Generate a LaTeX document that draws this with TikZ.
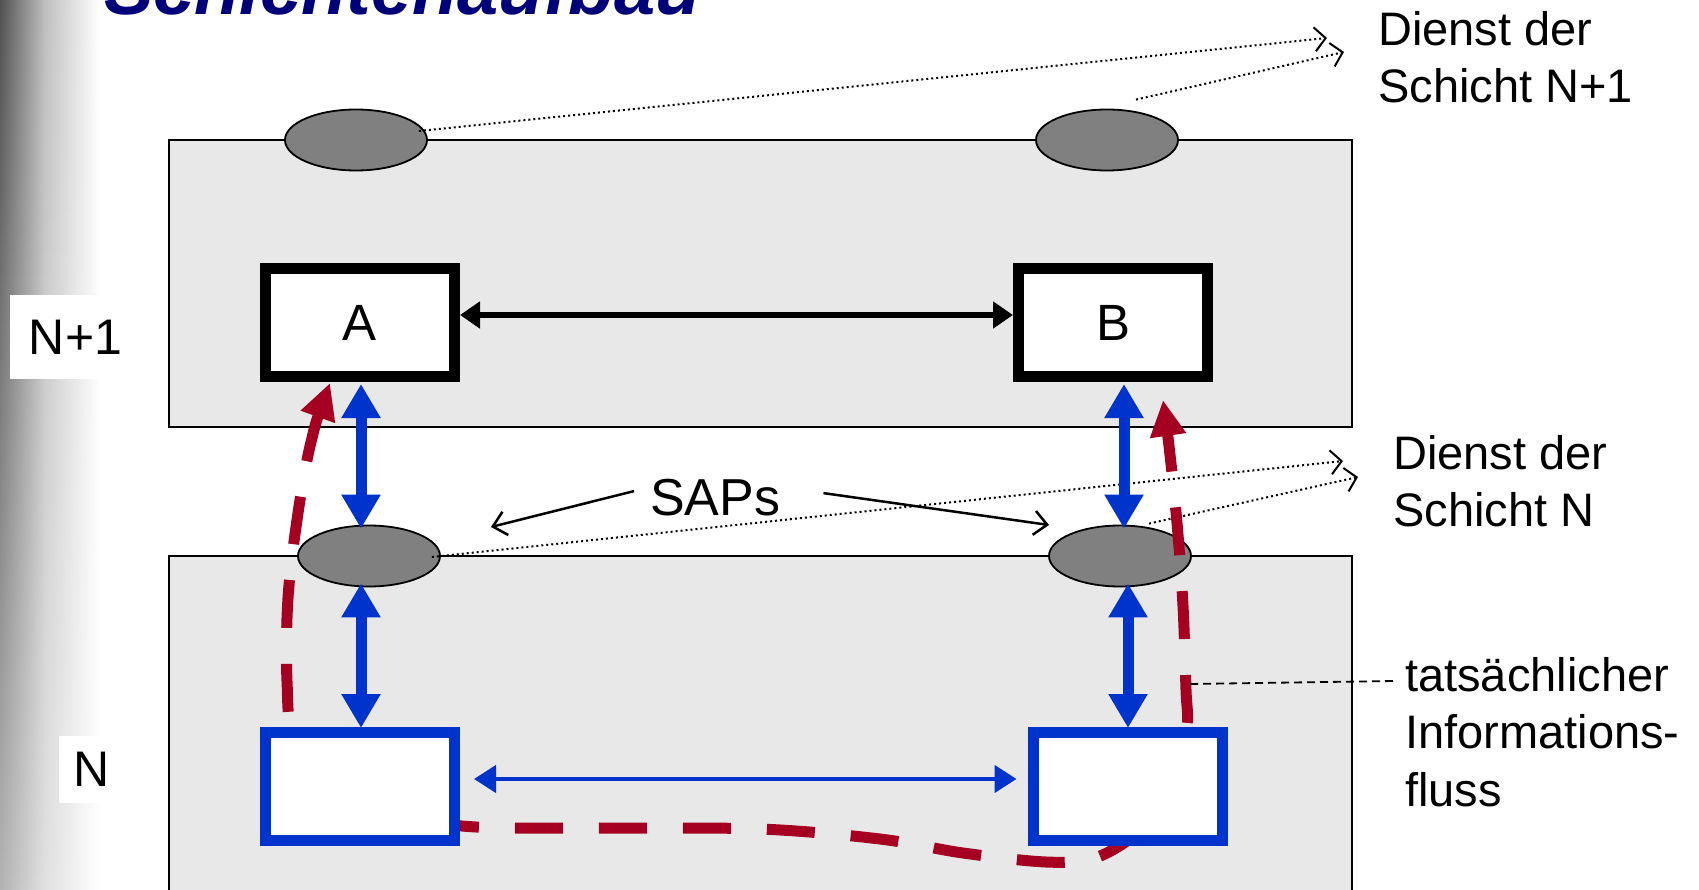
\documentclass[tikz,border=0pt]{standalone}
\usepackage{fontspec}
\setmainfont{Liberation Sans}
\usetikzlibrary{arrows.meta,shapes.geometric,calc,shadings}
\definecolor{layerfill}{RGB}{232,232,232}
\definecolor{sapfill}{RGB}{128,128,128}
\definecolor{nblue}{RGB}{0,51,204}
\definecolor{flowred}{RGB}{165,0,33}
\definecolor{titlenavy}{RGB}{0,0,120}
\pgfdeclarelayer{bg}
\pgfsetlayers{bg,main}
\begin{document}
\begin{tikzpicture}[x=1pt,y=-1pt,
  layerbox/.style={draw=black,line width=2pt,fill=layerfill},
  sap/.style={ellipse,draw=black,line width=1.8pt,fill=sapfill,minimum width=142pt,minimum height=61pt,inner sep=0pt},
  entity/.style={draw=black,line width=11pt,fill=white,minimum width=189pt,minimum height=108pt,inner sep=0pt,font=\fontsize{51}{60}\selectfont},
  nentity/.style={entity,draw=nblue},
  sidetext/.style={align=left,inner sep=0pt,anchor=base west,font=\fontsize{47}{57.5}\selectfont},
  lvl/.style={fill=white,inner sep=0pt,font=\fontsize{50}{60}\selectfont},
  peer/.style={line width=5.5pt,{Triangle[length=20pt,width=26pt]}-{Triangle[length=20pt,width=26pt]}},
  sapaccess/.style={nblue,line width=11pt,{Triangle[length=34pt,width=37pt]}-{Triangle[length=34pt,width=37pt]}},
  npeer/.style={nblue,line width=4.5pt,{Triangle[length=22pt,width=27pt]}-{Triangle[length=22pt,width=27pt]}},
  flow/.style={flowred,line width=11pt,dash pattern=on 48pt off 36pt,{Triangle[length=36pt,width=34pt]}-{Triangle[length=36pt,width=34pt]}},
  service/.style={line width=2pt,dash pattern=on 2pt off 3pt,-{Straight Barb[length=11pt,width=24pt,line width=2pt]}},
  pointer/.style={line width=2.5pt,-{Straight Barb[length=13pt,width=24pt,line width=2.5pt]}},
  leader/.style={line width=1.8pt,dash pattern=on 8pt off 5pt},
]
\useasboundingbox (0,0) rectangle (1699,890);
\clip (0,0) rectangle (1699,890);

% entities (main layer, on top)
\node[entity] (A) at (360,322.5) {A};
\node[entity] (B) at (1113,322.5) {B};
\node[nentity] (nA) at (360,786.5) {};
\node[nentity] (nB) at (1127.5,786.5) {};

\begin{pgfonlayer}{bg}
\fill[white] (0,0) rectangle (1699,890);
\shade[upper left=black!68, lower left=black!30, upper right=black!25, lower right=black!12] (0,0) rectangle (45,890);
\shade[upper left=black!25, lower left=black!12, upper right=white, lower right=white] (45,0) rectangle (100,890);

\node[lvl,minimum width=116pt,minimum height=84pt] (lvlN1) at (68,337) {\hspace*{15pt}N+1};
\node[lvl,minimum width=61pt,minimum height=67pt] (lvlN) at (89,769.5) {\hspace*{6pt}N};

\node[anchor=base west,inner sep=0pt,text=titlenavy,font=\fontsize{74}{80}\selectfont\bfseries\itshape] (title) at (104,15) {Schichtenaufbau};

\draw[layerbox] (169,140) rectangle (1352,427);
\draw[layerbox] (169,556) rectangle (1352,905);

\node[sap] (s1) at (356,140) {};
\node[sap] (s2) at (1107,140) {};
\node[sap] (s3) at (369,556) {};
\node[sap] (s4) at (1120,556) {};

\coordinate (t1) at (1327,38);
\coordinate (t2) at (1344,52);
\coordinate (t3) at (1343,461);
\coordinate (t4) at (1358,477);
\draw[service] ($(s1.east)+(-9,-9)$) -- (t1);
\draw[service] ($(s2.north)+(29,-9)$) -- (t2);
\draw[service] ($(s3.east)+(-9,1)$) -- (t3);
\draw[service] ($(s4.north)+(29,-1)$) -- (t4);

\coordinate (fA) at ($(A.south)+(-30,1)$);
\coordinate (fB) at ($(B.south)+(50,18)$);
\draw[flow] plot[smooth,tension=0.55] coordinates {(fA) (311,442) (298,513) (288,598) (287,681) (295,745) (340,805) (462,826) (600,828) (760,829) (880,839) (963,853) (1046,862) (1095,858) (1140,830) (1175,780) (1187,727) (1186,690) (1183,606) (1177,523) (1169,446) (fB)};
\end{pgfonlayer}

% vertical SAP access arrows
\draw[sapaccess] ($(A.south)+(1,2)$) -- ($(s3.north)+(-8,4)$);
\draw[sapaccess] ($(s3.south)+(-8,-4)$) -- ($(nA.north)+(1,1)$);
\draw[sapaccess] ($(B.south)+(11,2)$) -- ($(s4.north)+(4,4)$);
\draw[sapaccess] ($(s4.south)+(8,-4)$) -- ($(nB.north)+(0.5,1)$);

% peer arrows
\draw[peer] ($(A.east)+(0,-7.5)$) -- ($(B.west)+(0,-7.5)$);
\draw[npeer] ($(nA.east)+(14,-7.5)$) -- ($(nB.west)+(-11,-7.5)$);

% texts
\node[sidetext] (svcN1) at (1378,103) {Dienst der\\Schicht N+1};
\node[sidetext] (svcN) at (1393,526.5) {Dienst der\\Schicht N};
\node[sidetext] (flowlbl) at (1405,806) {tatsächlicher\\Informations-\\fluss};

\node[anchor=base west,inner sep=0pt,font=\fontsize{52}{60}\selectfont] (saps) at (650,515) {SAPs};
\coordinate (pL) at (491,527);
\coordinate (pR) at (1049,525);
\draw[pointer] ($(saps.west)+(-16,-6)$) -- (pL);
\draw[pointer] ($(saps.east)+(43,-4)$) -- (pR);

\coordinate (ldA) at (1190,684);
\draw[leader] (ldA) -- ($(flowlbl.base west)+(-11,-125)$);
\end{tikzpicture}
\end{document}
